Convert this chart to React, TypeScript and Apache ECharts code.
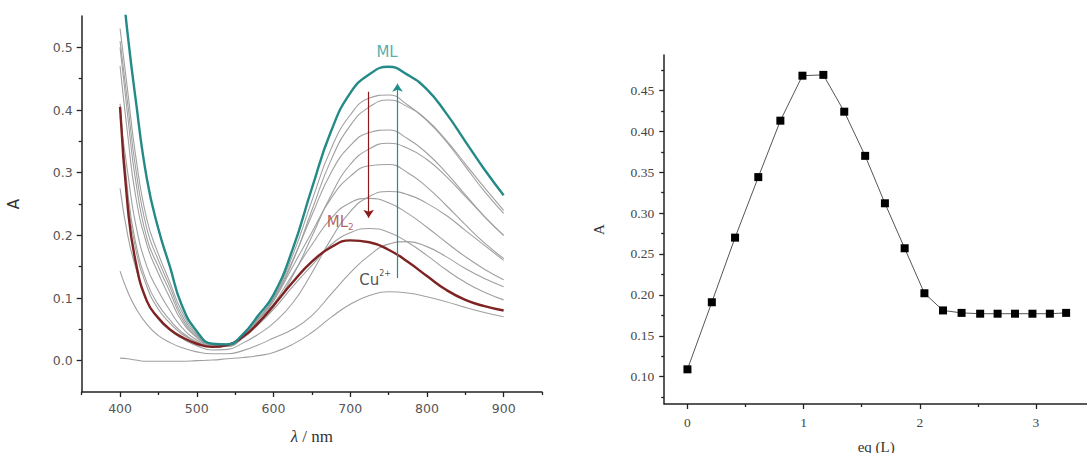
import React, { useEffect, useRef } from "react";
import * as echarts from "echarts";

// ---------- Left panel: UV-vis titration spectra ----------
const wavelengths = [400, 410, 420, 435, 450, 465, 480, 500, 520, 540, 560, 580, 600, 625, 650, 675, 700, 725, 750, 775, 800, 825, 850, 875, 900];

const specML = [0.64, 0.52, 0.42, 0.29, 0.21, 0.15, 0.09, 0.047, 0.027, 0.026, 0.042, 0.072, 0.105, 0.178, 0.275, 0.366, 0.427, 0.457, 0.469, 0.456, 0.433, 0.395, 0.35, 0.305, 0.264];
const specD1 = [0.53, 0.43, 0.33, 0.225, 0.17, 0.125, 0.08, 0.043, 0.026, 0.026, 0.041, 0.068, 0.1, 0.168, 0.255, 0.338, 0.392, 0.419, 0.424, 0.408, 0.383, 0.35, 0.31, 0.27, 0.235];
const specD2 = [0.51, 0.41, 0.31, 0.21, 0.16, 0.118, 0.074, 0.041, 0.025, 0.025, 0.04, 0.066, 0.098, 0.16, 0.232, 0.3, 0.343, 0.364, 0.368, 0.354, 0.331, 0.3, 0.265, 0.23, 0.2];
const specD3 = [0.5, 0.39, 0.29, 0.195, 0.15, 0.11, 0.069, 0.039, 0.025, 0.025, 0.039, 0.064, 0.095, 0.15, 0.205, 0.259, 0.294, 0.311, 0.313, 0.3, 0.277, 0.248, 0.217, 0.188, 0.163];
const specA4 = [0.47, 0.36, 0.265, 0.185, 0.139, 0.1, 0.064, 0.037, 0.024, 0.025, 0.04, 0.066, 0.097, 0.158, 0.24, 0.32, 0.375, 0.405, 0.416, 0.405, 0.384, 0.352, 0.314, 0.276, 0.24];
const specA3 = [0.39, 0.3, 0.22, 0.15, 0.111, 0.08, 0.054, 0.033, 0.023, 0.023, 0.036, 0.058, 0.085, 0.135, 0.198, 0.264, 0.313, 0.338, 0.347, 0.339, 0.321, 0.294, 0.262, 0.23, 0.2];
const specD4 = [0.41, 0.27, 0.19, 0.125, 0.089, 0.065, 0.046, 0.03, 0.023, 0.024, 0.038, 0.061, 0.09, 0.138, 0.185, 0.227, 0.252, 0.259, 0.252, 0.235, 0.213, 0.189, 0.166, 0.146, 0.129];
const specD5 = [0.4, 0.26, 0.18, 0.118, 0.082, 0.06, 0.043, 0.029, 0.022, 0.023, 0.036, 0.057, 0.082, 0.118, 0.152, 0.185, 0.204, 0.211, 0.205, 0.189, 0.168, 0.145, 0.125, 0.109, 0.097];
const specML2 = [0.405, 0.245, 0.16, 0.095, 0.068, 0.05, 0.038, 0.027, 0.022, 0.025, 0.038, 0.06, 0.088, 0.125, 0.158, 0.181, 0.192, 0.189, 0.177, 0.158, 0.135, 0.113, 0.097, 0.087, 0.08];
const specA2 = [0.275, 0.2, 0.15, 0.095, 0.066, 0.048, 0.036, 0.024, 0.017, 0.018, 0.028, 0.042, 0.06, 0.092, 0.14, 0.194, 0.238, 0.262, 0.27, 0.265, 0.251, 0.232, 0.208, 0.184, 0.16];
const specA1 = [0.143, 0.11, 0.085, 0.058, 0.04, 0.029, 0.021, 0.014, 0.011, 0.011, 0.016, 0.025, 0.036, 0.05, 0.072, 0.106, 0.14, 0.168, 0.186, 0.19, 0.182, 0.166, 0.147, 0.131, 0.118];
const specCu = [0.004, 0.003, 0.001, -0.001, -0.001, -0.001, -0.001, 0.0, 0.001, 0.003, 0.005, 0.008, 0.013, 0.026, 0.045, 0.069, 0.09, 0.104, 0.11, 0.108, 0.102, 0.094, 0.085, 0.077, 0.07];

const grayCurves = [specD1, specD2, specD3, specA4, specA3, specD4, specD5, specA2, specA1, specCu];

const leftXMajor = [400, 500, 600, 700, 800, 900];
const leftXMinor = [350, 450, 550, 650, 750, 850, 950];
const leftYMajor = [0, 0.1, 0.2, 0.3, 0.4, 0.5];
const leftYMinor = [0.05, 0.15, 0.25, 0.35, 0.45];

// arrows
const arrowDown = [[724, 0.429], [724, 0.228]];
const arrowUp = [[761.6, 0.132], [761.6, 0.442]];

// label anchors
const labelML = [748, 0.493];
const labelML2 = [687, 0.222];
const labelCu = [732.5, 0.129];

// ---------- Right panel: absorbance vs equivalents ----------
const eqValues = [0, 0.21, 0.41, 0.61, 0.8, 0.99, 1.17, 1.35, 1.53, 1.7, 1.87, 2.04, 2.2, 2.36, 2.52, 2.67, 2.82, 2.97, 3.12, 3.26];
const absValues = [0.109, 0.191, 0.27, 0.344, 0.413, 0.468, 0.469, 0.424, 0.37, 0.312, 0.257, 0.202, 0.181, 0.178, 0.177, 0.177, 0.177, 0.177, 0.177, 0.178];

const rightXMajor = [0, 1, 2, 3];
const rightXMinor = [0.5, 1.5, 2.5];
const rightYMajor = [0.1, 0.15, 0.2, 0.25, 0.3, 0.35, 0.4, 0.45];
const rightYMinor = [0.075, 0.125, 0.175, 0.225, 0.275, 0.325, 0.375, 0.425, 0.475];

const AX = "#222";
const SANS = "DejaVu Sans";
const SERIF = "Liberation Serif";

function pairs(xs: number[], ys: number[]) {
  return xs.map((x, i) => [x, ys[i]]);
}

export default function App() {
  const ref = useRef<HTMLDivElement>(null);
  useEffect(() => {
    if (!ref.current) return;
    const chart = echarts.init(ref.current, null, { renderer: "svg" });

    const mainAxis = (
      gridIndex: number,
      min: number,
      max: number,
      major: number[],
      labelStyle: any,
      fmt: (v: number) => string,
      extra: any
    ) => ({
      type: "value",
      gridIndex,
      min,
      max,
      axisLine: { show: true, onZero: false, lineStyle: { color: AX, width: 1.5 } },
      axisTick: { show: true, customValues: major, length: 5, lineStyle: { color: AX, width: 1.3 } },
      axisLabel: { show: true, customValues: major, formatter: fmt, ...labelStyle },
      splitLine: { show: false },
      ...extra,
    });
    const minorAxis = (gridIndex: number, min: number, max: number, minor: number[], position: string) => ({
      type: "value",
      gridIndex,
      min,
      max,
      position,
      axisLine: { show: false, onZero: false },
      axisTick: { show: true, customValues: minor, length: 3, lineStyle: { color: AX, width: 1.3 } },
      axisLabel: { show: false },
      splitLine: { show: false },
    });

    const leftLabel = { fontFamily: SANS, fontSize: 12.5, color: "#555" };
    const rightLabel = { fontFamily: SERIF, fontSize: 13.5, color: "#444" };

    const spectrum = (data: number[], color: string, width: number, z: number) => ({
      type: "line",
      xAxisIndex: 0,
      yAxisIndex: 0,
      data: pairs(wavelengths, data),
      showSymbol: false,
      smooth: 0.5,
      lineStyle: { color, width },
      silent: true,
      z,
    });

    const textPoint = (pos: number[], fmt: string, rich: any) => ({
      type: "scatter",
      xAxisIndex: 0,
      yAxisIndex: 0,
      data: [pos],
      symbolSize: 1,
      itemStyle: { color: "transparent" },
      label: { show: true, position: "inside", formatter: fmt, rich },
      silent: true,
      z: 10,
    });

    const option: any = {
      animation: false,
      backgroundColor: "#ffffff",
      grid: [
        { left: 81.7, top: 16, width: 460.3, height: 376, containLabel: false, outerBoundsMode: "none" },
        { left: 664.2, top: 55, width: 424, height: 349, containLabel: false, outerBoundsMode: "none" },
      ],
      xAxis: [
        mainAxis(0, 350, 950, leftXMajor, { ...leftLabel, margin: 10 }, (v) => String(Math.round(v)), {
          position: "bottom",
          name: "{i|λ} / nm",
          nameLocation: "middle",
          nameGap: 36,
          nameTextStyle: {
            fontFamily: SERIF,
            fontSize: 17,
            color: "#333",
            rich: { i: { fontFamily: SERIF, fontStyle: "italic", fontSize: 17, color: "#333" } },
          },
        }),
        minorAxis(0, 350, 950, leftXMinor, "bottom"),
        mainAxis(1, -0.2, 3.45, rightXMajor, { ...rightLabel, margin: 11 }, (v) => String(Math.round(v)), {
          position: "bottom",
          name: "eq (L)",
          nameLocation: "middle",
          nameGap: 35,
          nameTextStyle: { fontFamily: SERIF, fontSize: 15, color: "#333" },
        }),
        minorAxis(1, -0.2, 3.45, rightXMinor, "bottom"),
      ],
      yAxis: [
        mainAxis(0, -0.05, 0.55, leftYMajor, { ...leftLabel, margin: 9 }, (v) => v.toFixed(1), {
          position: "left",
          name: "A",
          nameLocation: "middle",
          nameGap: 60,
          nameRotate: 90,
          nameTextStyle: { fontFamily: SANS, fontSize: 15, color: "#333", padding: [0, 0, 0, 0] },
        }),
        minorAxis(0, -0.05, 0.55, leftYMinor, "left"),
        mainAxis(1, 0.0666, 0.4933, rightYMajor, { ...rightLabel, margin: 10 }, (v) => v.toFixed(2), {
          position: "left",
          name: "A",
          nameLocation: "middle",
          nameGap: 58,
          nameRotate: 90,
          nameTextStyle: { fontFamily: SERIF, fontSize: 15, color: "#333" },
        }),
        minorAxis(1, 0.0666, 0.4933, rightYMinor, "left"),
      ],
      series: [
        ...grayCurves.map((c) => spectrum(c, "#a0a0a0", 1.1, 2)),
        spectrum(specML2, "#7e2222", 2.4, 4),
        spectrum(specML, "#238a87", 2.4, 5),
        {
          type: "lines",
          coordinateSystem: "cartesian2d",
          xAxisIndex: 0,
          yAxisIndex: 0,
          symbol: ["none", "arrow"],
          symbolSize: 8,
          lineStyle: { color: "#8b1a1a", width: 1.2, opacity: 1 },
          data: [{ coords: arrowDown }],
          silent: true,
          z: 6,
        },
        {
          type: "lines",
          coordinateSystem: "cartesian2d",
          xAxisIndex: 0,
          yAxisIndex: 0,
          symbol: ["none", "arrow"],
          symbolSize: 8,
          lineStyle: { color: "#1f8f8a", width: 1.2, opacity: 1 },
          data: [{ coords: arrowUp }],
          silent: true,
          z: 6,
        },
        textPoint(labelML, "{m|ML}", { m: { fontFamily: SANS, fontSize: 15, color: "#2a9a96" } }),
        textPoint(labelML2, "{m|ML}{s|2}", {
          m: { fontFamily: SANS, fontSize: 15, color: "#a33c3c", lineHeight: 20, verticalAlign: "middle" },
          s: { fontFamily: SANS, fontSize: 9, color: "#a33c3c", lineHeight: 6, verticalAlign: "bottom" },
        }),
        textPoint(labelCu, "{m|Cu}{s|2+}", {
          m: { fontFamily: SANS, fontSize: 15, color: "#222", lineHeight: 20, verticalAlign: "middle" },
          s: { fontFamily: SANS, fontSize: 8, color: "#222", lineHeight: 6, verticalAlign: "top" },
        }),
        {
          type: "line",
          xAxisIndex: 2,
          yAxisIndex: 2,
          data: pairs(eqValues, absValues),
          symbol: "rect",
          symbolSize: 8,
          showSymbol: true,
          itemStyle: { color: "#000" },
          lineStyle: { color: "#555", width: 1 },
          silent: true,
          z: 5,
        },
      ],
    };

    chart.setOption(option);
    return () => chart.dispose();
  }, []);

  return (
    <div
      ref={ref}
      style={{ position: "absolute", left: 0, top: 0, width: 1087, height: 453, background: "#fff" }}
    />
  );
}
